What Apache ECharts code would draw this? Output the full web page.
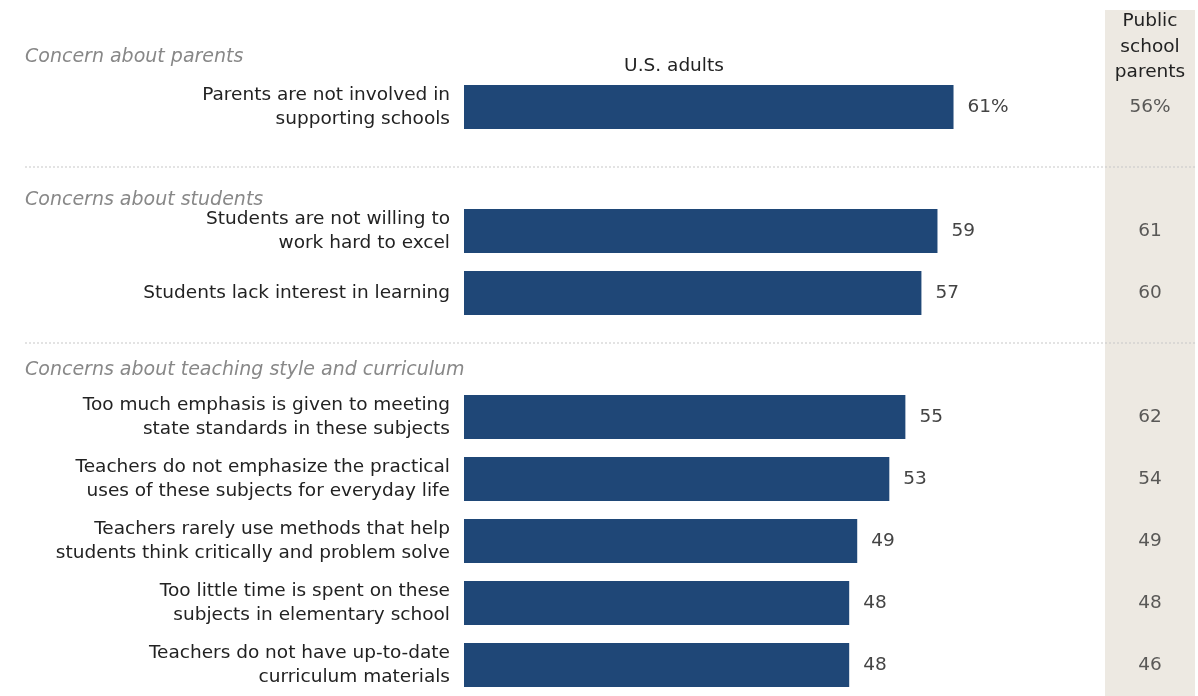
<!DOCTYPE html>
<html>
<head>
<meta charset="utf-8">
<script src="https://cdn.jsdelivr.net/npm/echarts@6/dist/echarts.min.js"></script>
<style>html,body{margin:0;padding:0;background:#fff;}#c{width:1198px;height:696px;}</style>
</head>
<body>
<div id="c"></div>
<script>
// Categories (empty strings are the spacer slots between groups)
const categories = [
  'Parents are not involved in\nsupporting schools',
  '',
  'Students are not willing to\nwork hard to excel',
  'Students lack interest in learning',
  '',
  'Too much emphasis is given to meeting\nstate standards in these subjects',
  'Teachers do not emphasize the practical\nuses of these subjects for everyday life',
  'Teachers rarely use methods that help\nstudents think critically and problem solve',
  'Too little time is spent on these\nsubjects in elementary school',
  'Teachers do not have up-to-date\ncurriculum materials'
];
const usAdults = [61, '-', 59, 57, '-', 55, 53, 49, 48, 48];
const publicSchoolParents = [56, '-', 61, 60, '-', 62, 54, 49, 48, 46];
const groupHeadings = ['Concern about parents', 'Concerns about students', 'Concerns about teaching style and curriculum'];

const FONT = '"DejaVu Sans", sans-serif';
const FS = 18.5;
const HFS = 19;
const chart = echarts.init(document.getElementById('c'), null, {renderer: 'canvas'});

const parentsData = publicSchoolParents.map((v, i) => v === '-' ? null : [0.5, i, v]).filter(d => d);

chart.setOption({
  animation: false,
  grid: [
    {left: 464, width: 642, top: 76, height: 624},
    {left: 1105, width: 90, top: 76, height: 624}
  ],
  xAxis: [
    {gridIndex: 0, type: 'value', min: 0, max: 80, show: false},
    {gridIndex: 1, type: 'value', min: 0, max: 1, show: false}
  ],
  yAxis: [
    {
      gridIndex: 0, type: 'category', data: categories, inverse: true,
      axisLine: {show: false}, axisTick: {show: false}, splitLine: {show: false},
      axisLabel: {
        margin: 14, align: 'right', color: '#222', fontSize: FS, lineHeight: 24,
        fontFamily: FONT
      }
    },
    {
      gridIndex: 1, type: 'category', data: categories, inverse: true, show: false
    }
  ],
  graphic: [
    {type: 'rect', z: -10, shape: {x: 1105, y: 10, width: 90, height: 700}, style: {fill: '#ede9e2'}},
    {type: 'line', shape: {x1: 25, y1: 167, x2: 1195, y2: 167}, style: {stroke: '#c8c8c8', lineWidth: 1, lineDash: [2, 2]}},
    {type: 'line', shape: {x1: 25, y1: 343, x2: 1195, y2: 343}, style: {stroke: '#c8c8c8', lineWidth: 1, lineDash: [2, 2]}},
    {type: 'text', x: 25, y: 57, style: {text: groupHeadings[0], fill: '#888', font: 'italic ' + HFS + 'px ' + FONT, textVerticalAlign: 'middle'}},
    {type: 'text', x: 25, y: 200, style: {text: groupHeadings[1], fill: '#888', font: 'italic ' + HFS + 'px ' + FONT, textVerticalAlign: 'middle'}},
    {type: 'text', x: 25, y: 370, style: {text: groupHeadings[2], fill: '#888', font: 'italic ' + HFS + 'px ' + FONT, textVerticalAlign: 'middle'}},
    {type: 'text', x: 674, y: 66, style: {text: 'U.S. adults', fill: '#222', font: FS + 'px ' + FONT, textAlign: 'center', textVerticalAlign: 'middle'}},
    {type: 'text', x: 1150, y: 47, style: {text: 'Public\nschool\nparents', fill: '#222', font: FS + 'px ' + FONT, lineHeight: 25.5, textAlign: 'center', textVerticalAlign: 'middle'}}
  ],
  series: [
    {
      type: 'bar', xAxisIndex: 0, yAxisIndex: 0, data: usAdults, barWidth: 44,
      itemStyle: {color: '#1f4777'},
      label: {
        show: true, position: 'right', distance: 14, color: '#444', fontSize: FS, fontFamily: FONT,
        formatter: p => p.dataIndex === 0 ? p.value + '%' : String(p.value)
      }
    },
    {
      type: 'scatter', xAxisIndex: 1, yAxisIndex: 1, data: parentsData, symbolSize: 0,
      label: {
        show: true, position: 'inside', color: '#333', fontSize: FS, fontFamily: FONT,
        formatter: p => p.dataIndex === 0 ? p.value[2] + '%' : String(p.value[2])
      }
    }
  ]
});
</script>
</body>
</html>
